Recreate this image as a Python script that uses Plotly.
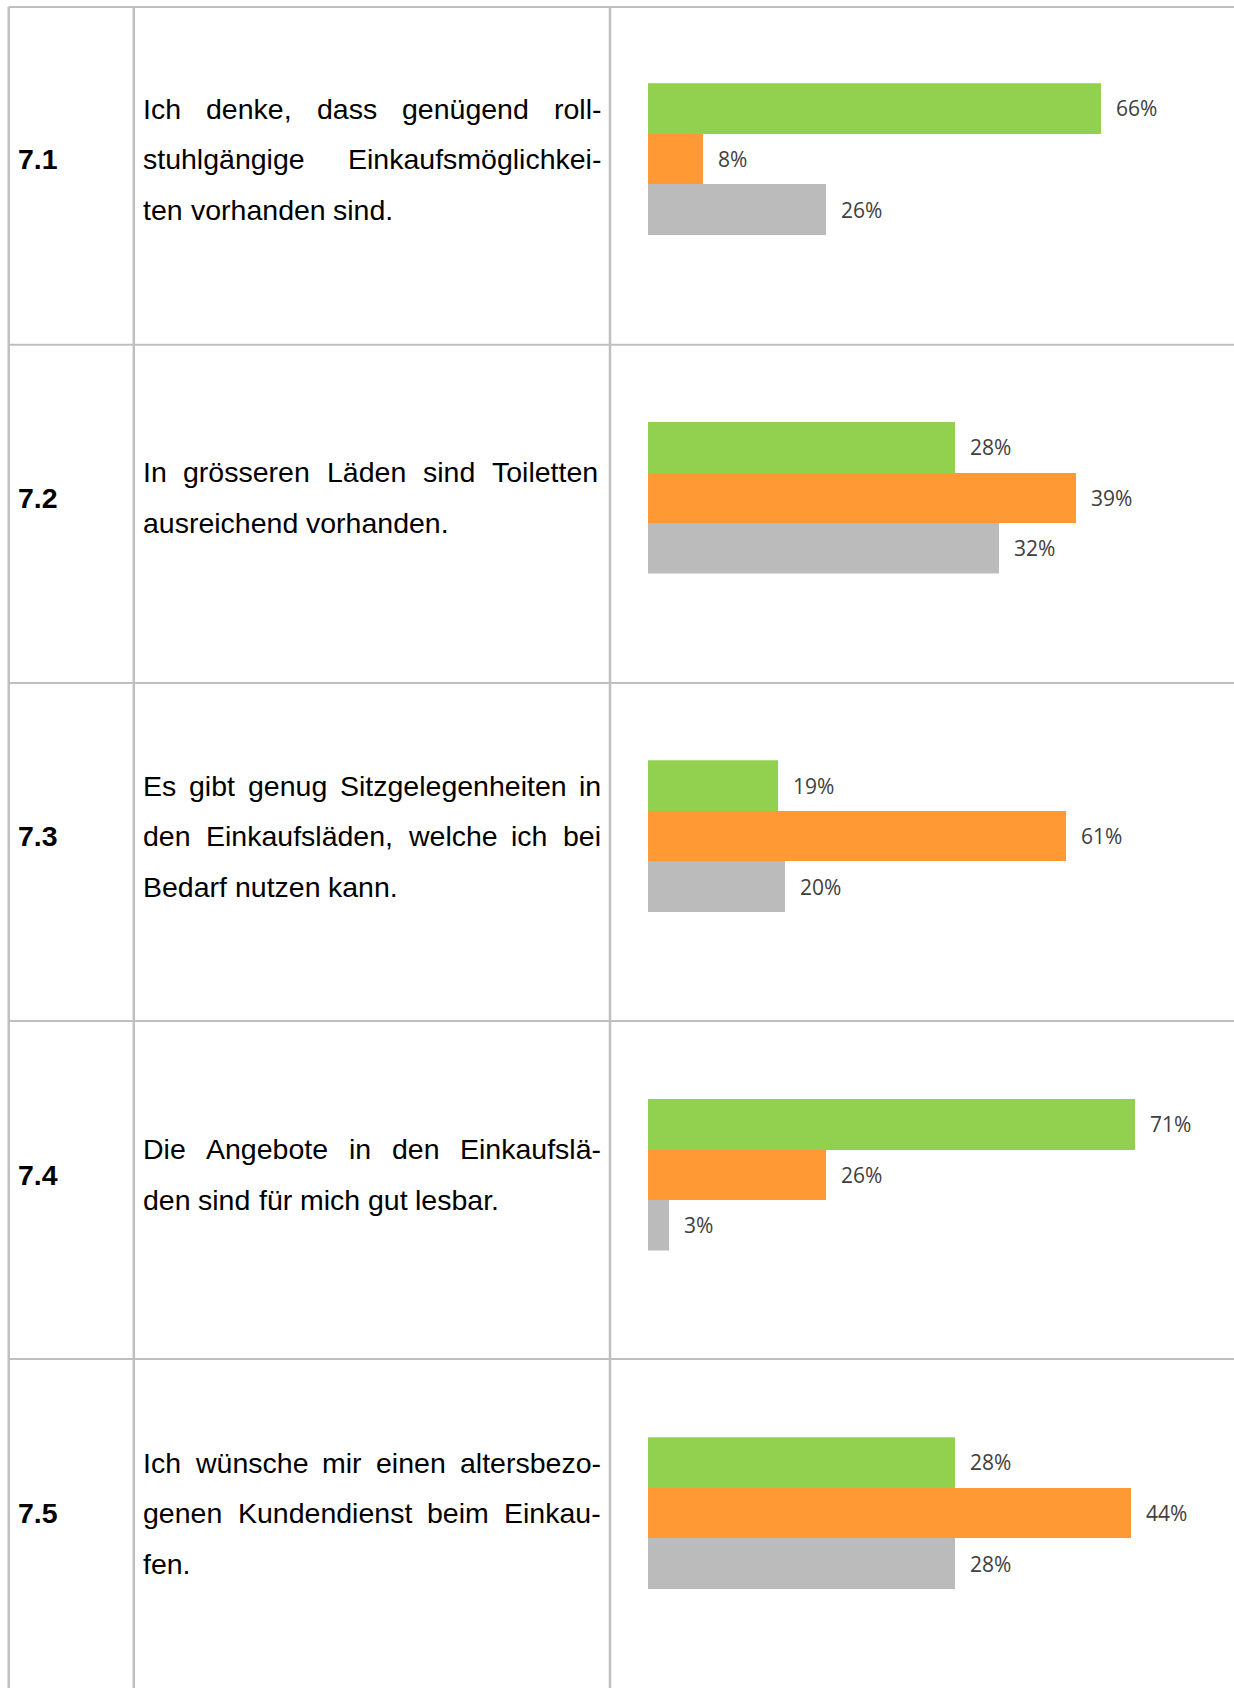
import plotly.graph_objects as go

# ---- data ---------------------------------------------------------------
item_ids = ["7.1", "7.2", "7.3", "7.4", "7.5"]
statement_lines = [
    ["Ich denke, dass genügend roll-",
     "stuhlgängige Einkaufsmöglichkei-",
     "ten vorhanden sind."],
    ["In grösseren Läden sind Toiletten",
     "ausreichend vorhanden."],
    ["Es gibt genug Sitzgelegenheiten in",
     "den Einkaufsläden, welche ich bei",
     "Bedarf nutzen kann."],
    ["Die Angebote in den Einkaufslä-",
     "den sind für mich gut lesbar."],
    ["Ich wünsche mir einen altersbezo-",
     "genen Kundendienst beim Einkau-",
     "fen."],
]
share_green = [66, 28, 19, 71, 28]
share_orange = [8, 39, 61, 26, 44]
share_gray = [26, 32, 20, 3, 28]
axis_max = [80, 50, 80, 80, 50]

# ---- styling / layout constants -----------------------------------------
W, H = 1234, 1688
GREEN, ORANGE, GREY = "#92D050", "#FF9933", "#BBBBBB"
RULE = "#BFBFBF"
TEXT_FONT = "Liberation Sans, Arial, sans-serif"
LABEL_FONT = "Open Sans, Calibri, sans-serif"
TEXT_SIZE = 28.5
LINE_STEP = 50.6
TEXT_LEFT, TEXT_RIGHT = 142, 600
COL_X = [8.7, 133.8, 610]
ROW_Y = [7, 344.8, 682.9, 1021, 1359]
CENTER0, ROW_STEP = 159.1, 338.5
BAR_H = 50.6
PLOT_X0, PLOT_X1 = 648.0, 1196.5

# Arial / Liberation Sans advance widths (per 1000 em)
ARIAL = {
    " ": 278, ",": 278, ".": 278, "-": 333,
    "a": 556, "b": 556, "c": 500, "d": 556, "e": 556, "f": 278, "g": 556,
    "h": 556, "i": 222, "j": 222, "k": 500, "l": 222, "m": 833, "n": 556,
    "o": 556, "p": 556, "q": 556, "r": 333, "s": 500, "t": 278, "u": 556,
    "v": 500, "w": 722, "x": 500, "y": 500, "z": 500,
    "ä": 556, "ö": 556, "ü": 556, "ß": 611,
    "A": 667, "B": 667, "C": 722, "D": 722, "E": 667, "F": 611, "G": 778,
    "H": 722, "I": 278, "J": 500, "K": 667, "L": 556, "M": 833, "N": 722,
    "O": 778, "P": 667, "R": 722, "S": 667, "T": 611, "U": 722, "V": 667,
    "W": 944, "Z": 611,
}


def text_width(s, size=TEXT_SIZE):
    return sum(ARIAL.get(ch, 556) for ch in s) * size / 1000.0


def px(x):
    return x / W


def py(y):
    return 1 - y / H


fig = go.Figure()
annotations = []
shapes = []

# ---- table rules --------------------------------------------------------
for x in COL_X:
    shapes.append(dict(type="line", xref="paper", yref="paper",
                       x0=px(x), x1=px(x), y0=py(ROW_Y[0]), y1=0,
                       line=dict(color=RULE, width=2.5)))
for y in ROW_Y:
    shapes.append(dict(type="line", xref="paper", yref="paper",
                       x0=px(COL_X[0]), x1=1, y0=py(y), y1=py(y),
                       line=dict(color=RULE, width=2)))

# ---- rows ---------------------------------------------------------------
for i, item in enumerate(item_ids):
    center = CENTER0 + ROW_STEP * i

    # item number
    annotations.append(dict(
        xref="paper", yref="paper", x=px(17), y=py(center),
        xanchor="left", yanchor="middle", showarrow=False, borderpad=0,
        text=f"<b>{item}</b>",
        font=dict(family=TEXT_FONT, size=TEXT_SIZE, color="#000000")))

    # justified statement text
    lines = statement_lines[i]
    n = len(lines)
    for k, line in enumerate(lines):
        ly = center + (k - (n - 1) / 2) * LINE_STEP
        words = line.split(" ")
        last = k == n - 1
        if last or len(words) == 1:
            positions = []
            xcur = TEXT_LEFT
            for w in words:
                positions.append(xcur)
                xcur += text_width(w) + text_width(" ")
        else:
            widths = [text_width(w) for w in words]
            gap = (TEXT_RIGHT - TEXT_LEFT - sum(widths)) / (len(words) - 1)
            positions = []
            xcur = TEXT_LEFT
            for w, wd in zip(words, widths):
                positions.append(xcur)
                xcur += wd + gap
        for w, xw in zip(words, positions):
            annotations.append(dict(
                xref="paper", yref="paper", x=px(xw), y=py(ly),
                xanchor="left", yanchor="middle", showarrow=False,
                borderpad=0, text=w,
                font=dict(family=TEXT_FONT, size=TEXT_SIZE, color="#000000")))

    # bar panel
    suffix = "" if i == 0 else str(i + 1)
    xa, ya = "x" + suffix, "y" + suffix
    values = [share_green[i], share_orange[i], share_gray[i]]
    fig.add_trace(go.Bar(
        x=values, y=[0, 1, 2], orientation="h", width=1,
        marker=dict(color=[GREEN, ORANGE, GREY], line=dict(width=0)),
        xaxis=xa, yaxis=ya, hoverinfo="skip", showlegend=False))
    for j, v in enumerate(values):
        annotations.append(dict(
            xref=xa, yref=ya, x=v, y=j, xanchor="left", yanchor="middle",
            xshift=14, showarrow=False, borderpad=0, text=f"{v}%",
            font=dict(family=LABEL_FONT, size=21, color="#404040")))

    axis_common = dict(visible=False, showgrid=False, zeroline=False,
                       fixedrange=True)
    fig.layout["xaxis" + suffix] = dict(
        axis_common, domain=[px(PLOT_X0), px(PLOT_X1)],
        range=[0, axis_max[i]], anchor=ya)
    fig.layout["yaxis" + suffix] = dict(
        axis_common,
        domain=[py(center + 1.5 * BAR_H), py(center - 1.5 * BAR_H)],
        range=[2.5, -0.5], anchor=xa)

fig.update_layout(
    width=W, height=H,
    margin=dict(l=0, r=0, t=0, b=0),
    paper_bgcolor="#FFFFFF", plot_bgcolor="rgba(0,0,0,0)",
    template="none", bargap=0,
    shapes=shapes, annotations=annotations,
)

fig.write_html("out.html")
